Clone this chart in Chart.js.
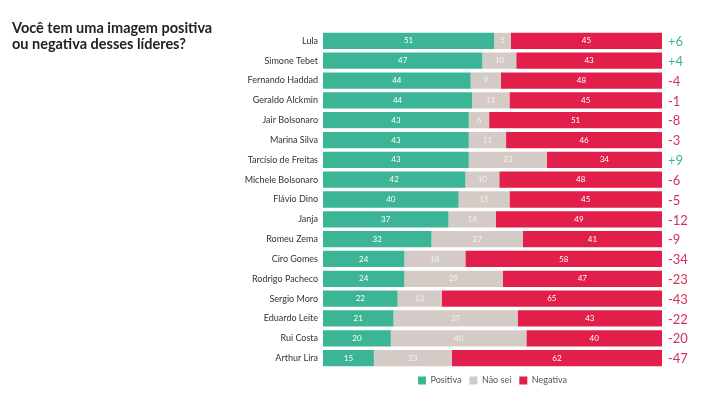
<!DOCTYPE html>
<html>
<head>
<meta charset="utf-8">
<script src="https://cdn.jsdelivr.net/npm/chart.js@4"></script>
<style>
  html, body { margin: 0; padding: 0; background: #fff; }
  #wrap { position: relative; width: 724px; height: 401px; }
  #title {
    position: absolute; left: 12px; top: 20px;
    font-family: Lato, sans-serif; font-weight: bold; font-size: 14.5px;
    line-height: 16px; color: #222;
  }
</style>
</head>
<body>
<div id="wrap">
  <div id="title">Você tem uma imagem positiva<br>ou negativa desses líderes?</div>
  <canvas id="myChart" width="724" height="401"></canvas>
</div>
<script>
const lideres = ['Lula', 'Simone Tebet', 'Fernando Haddad', 'Geraldo Alckmin', 'Jair Bolsonaro',
  'Marina Silva', 'Tarcísio de Freitas', 'Michele Bolsonaro', 'Flávio Dino', 'Janja', 'Romeu Zema',
  'Ciro Gomes', 'Rodrigo Pacheco', 'Sergio Moro', 'Eduardo Leite', 'Rui Costa', 'Arthur Lira'];
const positiva = [51, 47, 44, 44, 43, 43, 43, 42, 40, 37, 32, 24, 24, 22, 21, 20, 15];
const naoSei = [5, 10, 9, 11, 6, 11, 23, 10, 15, 14, 27, 18, 29, 13, 37, 40, 23];
const negativa = [45, 43, 48, 45, 51, 46, 34, 48, 45, 49, 41, 58, 47, 65, 43, 40, 62];
const saldo = [6, 4, -4, -1, -8, -3, 9, -6, -5, -12, -9, -34, -23, -43, -22, -20, -47];

const VERDE = '#3bb595', CINZA = '#d4cbc6', VERMELHO = '#e21f4b';

// each row is stretched to 100% (some rows add up to 101)
const totais = lideres.map((_, i) => positiva[i] + naoSei[i] + negativa[i]);
const pct = arr => arr.map((v, i) => v / totais[i] * 100);
const brutos = [positiva, naoSei, negativa];

const rotulos = {
  id: 'rotulos',
  afterDatasetsDraw(chart) {
    const ctx = chart.ctx;
    ctx.save();
    ctx.textBaseline = 'middle';
    chart.data.datasets.forEach((ds, d) => {
      chart.getDatasetMeta(d).data.forEach((bar, i) => {
        const x = (bar.base + bar.x) / 2;
        ctx.font = '8px Lato, sans-serif';
        ctx.textAlign = 'center';
        ctx.fillStyle = d === 1 ? 'rgba(255,255,255,0.75)' : '#fff';
        ctx.fillText(brutos[d][i], x, bar.y);
      });
    });
    // saldo on the right
    const meta = chart.getDatasetMeta(2);
    meta.data.forEach((bar, i) => {
      const s = saldo[i];
      ctx.font = '13px Lato, sans-serif';
      ctx.textAlign = 'left';
      ctx.fillStyle = s > 0 ? VERDE : '#d2325a';
      ctx.fillText((s > 0 ? '+' : '') + s, chart.chartArea.right + 6, bar.y + 1);
    });
    ctx.restore();
  }
};

new Chart(document.getElementById('myChart'), {
  type: 'bar',
  data: {
    labels: lideres,
    datasets: [
      { label: 'Positiva', data: pct(positiva), backgroundColor: VERDE },
      { label: 'Não sei', data: pct(naoSei), backgroundColor: CINZA },
      { label: 'Negativa', data: pct(negativa), backgroundColor: VERMELHO }
    ]
  },
  options: {
    indexAxis: 'y',
    responsive: false,
    animation: false,
    barPercentage: 0.82,
    categoryPercentage: 1,
    layout: { padding: { top: 31, right: 62, bottom: 6, left: 0 } },
    scales: {
      x: { stacked: true, min: 0, max: 100, display: false },
      y: {
        stacked: true,
        grid: { display: false, drawTicks: false },
        border: { display: false },
        afterFit: s => { s.width = 323; },
        ticks: { font: { family: 'Lato, sans-serif', size: 9 }, color: '#333', padding: 5 }
      }
    },
    plugins: {
      legend: {
        position: 'bottom',
        fullSize: false,
        labels: {
          boxWidth: 8, boxHeight: 8, padding: 8,
          font: { family: 'Lato, sans-serif', size: 9 }, color: '#555'
        }
      },
      tooltip: { enabled: false }
    }
  },
  plugins: [rotulos]
});
</script>
</body>
</html>
